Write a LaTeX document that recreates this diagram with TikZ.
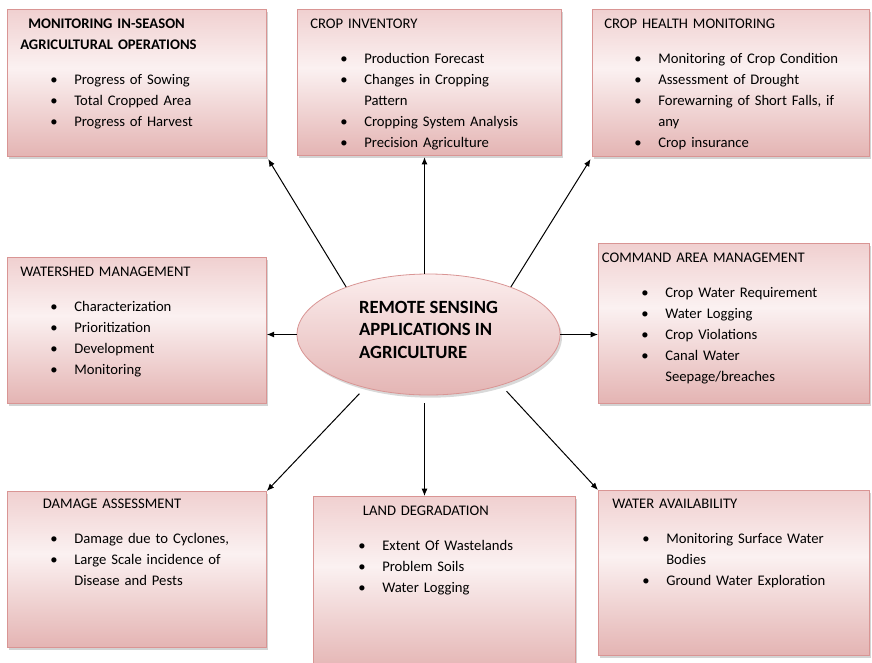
\documentclass[tikz,border=0pt]{standalone}
\usepackage{fontspec}
\setmainfont{Carlito}
\usetikzlibrary{shapes.geometric,shadows,arrows.meta}

\definecolor{boxedge}{HTML}{D99594}
\definecolor{boxtop}{HTML}{F0D0D0}
\definecolor{boxmid}{HTML}{FBF1F1}
\definecolor{boxbot}{HTML}{E4B4B3}
\definecolor{hubtop}{HTML}{FBEDED}
\definecolor{hubbot}{HTML}{E4B5B4}
\pgfdeclareverticalshading{pinkfade}{100bp}{color(0bp)=(boxbot); color(25bp)=(boxbot); color(55bp)=(boxmid); color(75bp)=(boxtop); color(100bp)=(boxtop)}

\newcommand{\px}{0.75pt}
\newcommand{\rshead}[1]{{#1}\par\vspace{10.5pt}}
\newcommand{\rsitem}[1]{\noindent\hangindent=40.5pt\hangafter=1\relax\hspace*{22.5pt}\makebox[18pt][l]{\textbullet}#1\par}

\begin{document}
\begin{tikzpicture}[x=0.75pt,y=-0.75pt,
    appbox/.style={anchor=north west, draw=boxedge, line width=0.6pt, shade, shading=pinkfade,
        drop shadow={shadow xshift=1.5pt, shadow yshift=-2pt, opacity=0.35}},
    boxtext/.style={anchor=north west, inner sep=0pt, align=left,
        font=\fontsize{11pt}{15.75pt}\selectfont},
    hub/.style={ellipse, draw=boxedge, line width=0.6pt, top color=hubtop, bottom color=hubbot,
        drop shadow={shadow xshift=1.5pt, shadow yshift=-2pt, opacity=0.3}},
    hubtext/.style={align=left, inner sep=0pt, font=\bfseries\fontsize{14pt}{16.9pt}\selectfont},
    link/.style={line width=0.75pt, -{Latex[length=5.5pt,width=4.5pt]}}]
  \clip (0,0) rectangle (872,662);

  % boxes
  \node[appbox, minimum width=259*\px, minimum height=147*\px] (mon) at (7,9) {};
  \node[appbox, minimum width=264*\px, minimum height=146*\px] (inv) at (297,9) {};
  \node[appbox, minimum width=277*\px, minimum height=147*\px] (hlt) at (592,9) {};
  \node[appbox, minimum width=259*\px, minimum height=146*\px] (wat) at (7,257) {};
  \node[appbox, minimum width=271*\px, minimum height=160*\px] (cmd) at (598,243) {};
  \node[appbox, minimum width=259*\px, minimum height=156*\px] (dmg) at (7,491) {};
  \node[appbox, minimum width=262*\px, minimum height=175*\px] (lnd) at (313,496) {};
  \node[appbox, minimum width=271*\px, minimum height=165*\px] (wav) at (598,490) {};

  % texts
  \node[boxtext, text width=240*\px] (montxt) at ([shift={(13,10)}]mon.north west)
    {\rshead{\bfseries\hspace*{6pt}MONITORING IN-SEASON\newline AGRICULTURAL OPERATIONS}%
     \rsitem{Progress of Sowing}\rsitem{Total Cropped Area}\rsitem{Progress of Harvest}};
  \node[boxtext, text width=245*\px] (invtxt) at ([shift={(13,10)}]inv.north west)
    {\rshead{CROP INVENTORY}%
     \rsitem{Production Forecast}\rsitem{Changes in Cropping\newline Pattern}%
     \rsitem{Cropping System Analysis}\rsitem{Precision Agriculture}};
  \node[boxtext, text width=258*\px] (hlttxt) at ([shift={(12,10)}]hlt.north west)
    {\rshead{CROP HEALTH MONITORING}%
     \rsitem{Monitoring of Crop Condition}\rsitem{Assessment of Drought}%
     \rsitem{Forewarning of Short Falls, if\newline any}\rsitem{Crop insurance}};
  \node[boxtext, text width=240*\px] (wattxt) at ([shift={(13,10)}]wat.north west)
    {\rshead{WATERSHED MANAGEMENT}%
     \rsitem{Characterization}\rsitem{Prioritization}\rsitem{Development}\rsitem{Monitoring}};
  \node[boxtext, text width=252*\px] (cmdtxt) at ([shift={(13,10)}]cmd.north west)
    {\rshead{\hspace*{-7pt}COMMAND AREA MANAGEMENT}%
     \rsitem{Crop Water Requirement}\rsitem{Water Logging}\rsitem{Crop Violations}%
     \rsitem{Canal Water\newline Seepage/breaches}};
  \node[boxtext, text width=240*\px] (dmgtxt) at ([shift={(13,8)}]dmg.north west)
    {\rshead{\hspace*{17pt}DAMAGE ASSESSMENT}%
     \rsitem{Damage due to Cyclones,}\rsitem{Large Scale incidence of\newline Disease and Pests}};
  \node[boxtext, text width=240*\px] (lndtxt) at ([shift={(15,10)}]lnd.north west)
    {\rshead{\hspace*{26pt}LAND DEGRADATION}%
     \rsitem{Extent Of Wastelands}\rsitem{Problem Soils}\rsitem{Water Logging}};
  \node[boxtext, text width=252*\px] (wavtxt) at ([shift={(14,9)}]wav.north west)
    {\rshead{WATER AVAILABILITY}%
     \rsitem{Monitoring Surface Water\newline Bodies}\rsitem{Ground Water Exploration}};

  % centre
  \node[hub, minimum width=263*\px, minimum height=121*\px] (rs) at (428.5,334.5) {};
  \node[hubtext] (rstxt) at (428.5,329.5) {REMOTE SENSING\\APPLICATIONS IN\\AGRICULTURE};

  % arrows
  \draw[link, shorten >=2pt] (rs.150) -- (mon.south east);
  \draw[link, shorten >=1pt] ([xshift=-3pt]rs.north) -- ([xshift=-3pt]rs.north |- inv.south);
  \draw[link, shorten >=2pt] (rs.30) -- (hlt.south west);
  \draw[link] (rs.west) -- (rs.west -| wat.east);
  \draw[link] (rs.east) -- (rs.east -| cmd.west);
  \draw[link, shorten <=6pt] (rs.-140) -- (dmg.north east);
  \draw[link, shorten <=6pt] ([xshift=-3pt]rs.south) -- ([xshift=-3pt]rs.south |- lnd.north);
  \draw[link, shorten <=6pt] (rs.-35) -- (wav.north west);
\end{tikzpicture}
\end{document}
